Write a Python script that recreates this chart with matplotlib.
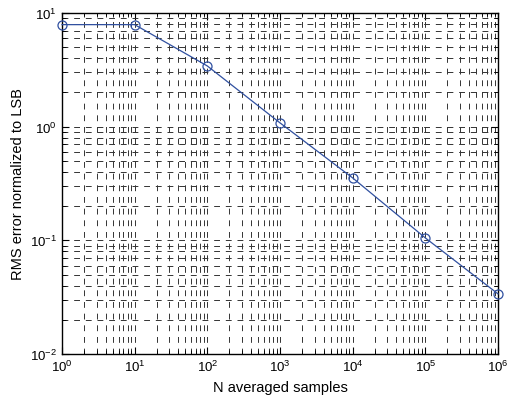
import numpy as np
import matplotlib.pyplot as plt
from matplotlib.ticker import LogLocator, NullFormatter

plt.rcParams['font.family'] = ['Liberation Sans', 'DejaVu Sans']

# data
n_samples = [1e0, 1e1, 1e2, 1e3, 1e4, 1e5, 1e6]
rms_error = [7.9, 7.9, 3.42, 1.08, 0.354, 0.105, 0.0338]

fig = plt.figure(figsize=(5.08, 4.02), dpi=100)
ax = fig.add_axes([62 / 508, 1 - 355 / 402, 436 / 508, 341 / 402])

ax.loglog(n_samples, rms_error, color='#3050a0', linewidth=0.9,
          marker='o', markersize=6.5, markerfacecolor='none',
          markeredgecolor='#3050a0', markeredgewidth=0.9, clip_on=False, zorder=3)

ax.set_xlim(1, 1e6)
ax.set_ylim(1e-2, 1e1)
ax.xaxis.set_major_locator(LogLocator(base=10, numticks=10))
ax.yaxis.set_major_locator(LogLocator(base=10, numticks=10))
ax.xaxis.set_minor_locator(LogLocator(base=10, subs=np.arange(2, 10), numticks=20))
ax.yaxis.set_minor_locator(LogLocator(base=10, subs=np.arange(2, 10), numticks=20))
ax.xaxis.set_minor_formatter(NullFormatter())
ax.yaxis.set_minor_formatter(NullFormatter())

# MATLAB-like dotted grid, looks dashed at this size
ax.grid(True, which='both', color='#333333', linestyle=(0, (6, 6)), linewidth=0.7)
ax.tick_params(which='both', direction='in', top=True, right=True, labelsize=9.5, color='black')
ax.tick_params(which='major', length=5)
ax.tick_params(which='minor', length=3)
for s in ax.spines.values():
    s.set_linewidth(1.0)

ax.set_xlabel('N averaged samples', fontsize=10.5)
ax.set_ylabel('RMS error normalized to LSB', fontsize=10.5)

fig.savefig('out.png', dpi=100)
